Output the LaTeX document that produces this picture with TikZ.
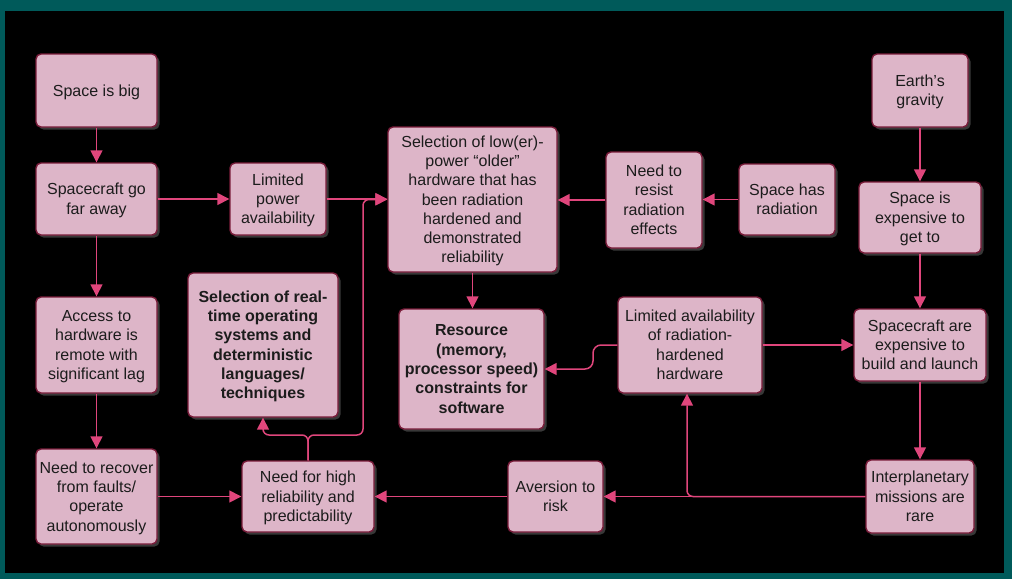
\documentclass[tikz,border=0pt]{standalone}
\usepackage{fontspec}
\setmainfont{Liberation Sans}
\usetikzlibrary{arrows.meta,shadows}
\definecolor{tealframe}{HTML}{005A5A}
\definecolor{boxfill}{HTML}{DDB5C8}
\definecolor{boxline}{HTML}{7A1C3A}
\definecolor{arrcol}{HTML}{E0467C}
\definecolor{txtcol}{HTML}{1C1C1C}
\newcommand\mytopstrut{\rule{0pt}{15.2pt}}
\newcommand\mybotstrut{\rule[-4.1pt]{0pt}{4.1pt}}
\newcommand\mkbox[7][]{\node[box,#1,minimum width=#5pt,minimum height=#6pt] (#2) at (#3,#4) {\mytopstrut#7\mybotstrut};}
\begin{document}
\begin{tikzpicture}[x=1pt,y=-1pt,
  box/.style={draw=boxline, line width=1.4pt, fill=boxfill, rounded corners=5pt,
    align=center, inner sep=0pt, text=txtcol, font=\fontsize{16}{19.3}\selectfont,
    drop shadow={shadow xshift=2.5pt, shadow yshift=-2.5pt, fill=black!78!white, opacity=1}},
  boldbox/.style={font=\fontsize{16}{19.3}\selectfont\bfseries},
  arr/.style={draw=arrcol, line width=1.5pt, -{Triangle[length=12pt,width=12pt]}}]
\useasboundingbox (0,0) rectangle (1012,579);
\fill[tealframe] (0,0) rectangle (1012,579);
\fill[black] (5,11) rectangle (1004,573);

\mkbox{big}{96.5}{90.5}{121}{73}{Space is big}
\mkbox{far}{96.5}{199}{121}{72}{Spacecraft go\\far away}
\mkbox{power}{278}{199}{96}{72}{Limited\\power\\availability}
\mkbox{sel}{472.5}{199.5}{169}{145}{Selection of low(er)-\\power “older”\\hardware that has\\been radiation\\hardened and\\demonstrated\\reliability}
\mkbox{resist}{654}{200}{96}{96}{Need to\\resist\\radiation\\effects}
\mkbox{rad}{787}{199.5}{96}{71}{Space has\\radiation}
\mkbox{earth}{920}{90.5}{96}{73}{Earth’s\\gravity}
\mkbox{exp}{920}{217.5}{122}{71}{Space is\\expensive to\\get to}
\mkbox{build}{920}{345}{132}{72}{Spacecraft are\\expensive to\\build and launch}
\mkbox{avail}{690}{345}{144}{96}{Limited availability\\of radiation-\\hardened\\hardware}
\mkbox[boldbox]{res}{471.5}{369}{145}{120}{Resource\\(memory,\\processor speed)\\constraints for\\software}
\mkbox{access}{96.5}{345}{121}{96}{Access to\\hardware is\\remote with\\significant lag}
\mkbox[boldbox]{rtos}{263}{345}{150}{144}{Selection of real-\\time operating\\systems and\\deterministic\\languages/\\techniques}
\mkbox{recover}{96.5}{496.5}{121}{95}{Need to recover\\from faults/\\operate\\autonomously}
\mkbox{high}{308}{496.5}{132}{71}{Need for high\\reliability and\\predictability}
\mkbox{aversion}{555.5}{496.5}{95}{71}{Aversion to\\risk}
\mkbox{inter}{920}{496.5}{108}{73}{Interplanetary\\missions are\\rare}

\coordinate (jn) at (308,435);
\coordinate (jr) at (363,435);
\coordinate (ka) at (593,345);

\draw[arr] (big.south) -- (far.north);
\draw[arr] (far.east) -- (power.west);
\draw[arr] (far.south) -- (access.north);
\draw[arr] (access.south) -- (recover.north);
\draw[arr] (recover.east) -- (recover.east -| high.west);
\draw[arr] (power.east) -- (power.east -| sel.west);
\draw[arr, rounded corners=6pt] (high.north) -- (jn) -| (rtos.south);
\draw[arr, rounded corners=6pt] (high.north) -- (jn) -- (jr) |- (sel.west);
\draw[arr] (resist.west) -- (resist.west -| sel.east);
\draw[arr] (rad.west) -- (rad.west -| resist.east);
\draw[arr] (sel.south) -- (sel.south |- res.north);
\draw[arr, rounded corners=8pt] (avail.west) -- (ka) |- (res.east);
\draw[arr] (avail.east) -- (build.west);
\draw[arr] (earth.south) -- (exp.north);
\draw[arr] (exp.south) -- (build.north);
\draw[arr] (build.south) -- (inter.north);
\draw[arr] (inter.west) -- (aversion.east);
\draw[arr, rounded corners=6pt] (inter.west) -| ([xshift=-3pt]avail.south);
\draw[arr] (aversion.west) -- (high.east);
\end{tikzpicture}
\end{document}
